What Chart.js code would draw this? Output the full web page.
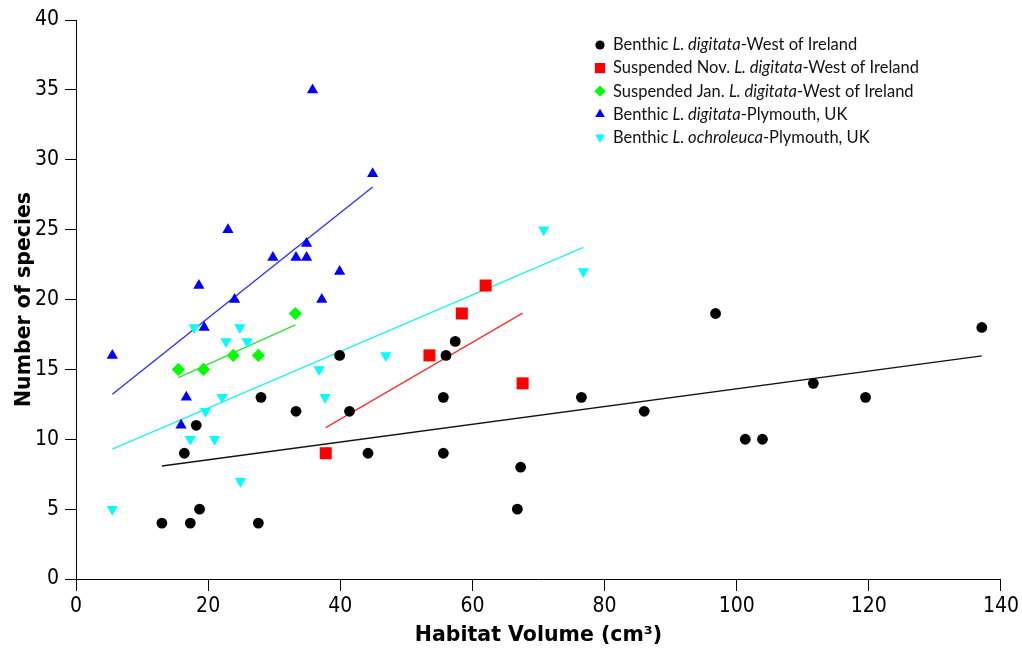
<!DOCTYPE html>
<html>
<head>
<meta charset="utf-8">
<title>Species richness vs habitat volume</title>
<script src="https://cdn.jsdelivr.net/npm/chart.js@4/dist/chart.umd.min.js"></script>
<style>
  html, body { margin: 0; padding: 0; background: #ffffff; }
  canvas { display: block; }
</style>
</head>
<body>
<canvas id="chart" width="1022" height="649"></canvas>
<script>
// Habitat volume (cm3) of each holdfast and the number of species found in it.
const benthicIrelandX = [13.0, 17.3, 18.7, 16.4, 18.2, 27.6, 28.0, 33.3, 39.9, 41.4, 44.2, 55.6, 55.6, 56.0, 57.4,
                         66.8, 67.3, 76.5, 86.0, 96.8, 101.3, 103.9, 111.6, 119.5, 137.1];
const benthicIrelandY = [4, 4, 5, 9, 11, 4, 13, 12, 16, 12, 9, 13, 9, 16, 17,
                         5, 8, 13, 12, 19, 10, 10, 14, 13, 18];

const suspendedNovX = [37.8, 53.5, 58.4, 62.0, 67.6];
const suspendedNovY = [9, 16, 19, 21, 14];

const suspendedJanX = [15.5, 19.3, 23.8, 27.6, 33.2];
const suspendedJanY = [15, 15, 16, 16, 19];

const plymouthDigitataX = [5.5, 15.9, 16.7, 18.6, 19.4, 23.0, 24.0, 29.8, 33.3, 34.9, 34.9, 37.2, 39.9, 35.8, 44.9];
const plymouthDigitataY = [16, 11, 13, 21, 18, 25, 20, 23, 23, 23, 24, 20, 22, 35, 29];

const plymouthOchroleucaX = [5.5, 17.3, 17.9, 19.6, 21.0, 22.1, 22.7, 24.8, 24.9, 25.9, 36.8, 37.7, 46.9, 70.8, 76.8];
const plymouthOchroleucaY = [5, 10, 18, 12, 10, 13, 17, 18, 7, 17, 15, 13, 16, 25, 22];

// Legend text: plain prefix, italic species name, plain suffix
const seriesLabels = [
  ['Benthic ', 'L. digitata', '-West of Ireland'],
  ['Suspended Nov. ', 'L. digitata', '-West of Ireland'],
  ['Suspended Jan. ', 'L. digitata', '-West of Ireland'],
  ['Benthic ', 'L. digitata', '-Plymouth, UK'],
  ['Benthic ', 'L. ochroleuca', '-Plymouth, UK']
];

const xAxisTitle = 'Habitat Volume (cm\u00B3)';
const yAxisTitle = 'Number of species';
const xRange = [0, 140];
const yRange = [0, 40];
const xStep = 20;
const yStep = 5;

// Marker appearance per series
const seriesColors = ['#000000', '#ff0000', '#00ff00', '#0000ff', '#00ffff'];
const lineColors = ['#111111', '#ff3030', '#30e030', '#3030ff', '#20f0f0'];
const markerStyles = [
  { pointStyle: 'circle', radius: 5.4, rotation: 0, legendRadius: 4.6 },
  { pointStyle: 'rect', radius: 8.5, rotation: 0, legendRadius: 7.2 },
  { pointStyle: 'rectRot', radius: 6.6, rotation: 0, legendRadius: 5.6 },
  { pointStyle: 'triangle', radius: 6.5, rotation: 0, legendRadius: 5.6 },
  { pointStyle: 'triangle', radius: 6.5, rotation: 180, legendRadius: 5.6 }
];

const seriesX = [benthicIrelandX, suspendedNovX, suspendedJanX, plymouthDigitataX, plymouthOchroleucaX];
const seriesY = [benthicIrelandY, suspendedNovY, suspendedJanY, plymouthDigitataY, plymouthOchroleucaY];

// Least-squares trend line across the x range of one series
function trendLine(xs, ys) {
  const n = xs.length;
  const mx = xs.reduce((a, b) => a + b, 0) / n;
  const my = ys.reduce((a, b) => a + b, 0) / n;
  let sxy = 0, sxx = 0;
  for (let i = 0; i < n; i++) {
    sxy += (xs[i] - mx) * (ys[i] - my);
    sxx += (xs[i] - mx) * (xs[i] - mx);
  }
  const slope = sxy / sxx;
  const icept = my - slope * mx;
  const x0 = Math.min(...xs), x1 = Math.max(...xs);
  return [{ x: x0, y: icept + slope * x0 }, { x: x1, y: icept + slope * x1 }];
}

const pointSets = seriesX.map((xs, i) => xs.map((x, j) => ({ x: x, y: seriesY[i][j] })));

const markerDatasets = pointSets.map((pts, i) => ({
  label: seriesLabels[i].join(''),
  data: pts,
  pointStyle: markerStyles[i].pointStyle,
  pointRadius: markerStyles[i].radius,
  pointRotation: markerStyles[i].rotation,
  pointBackgroundColor: seriesColors[i],
  pointBorderWidth: 0,
  pointBorderColor: seriesColors[i],
  backgroundColor: seriesColors[i],
  showLine: false,
  order: 0,
  clip: false
}));

const trendDatasets = pointSets.map((pts, i) => ({
  label: 'trend ' + i,
  data: trendLine(seriesX[i], seriesY[i]),
  showLine: true,
  borderColor: lineColors[i],
  borderWidth: 1.4,
  pointRadius: 0,
  fill: false,
  order: 1
}));

const tickFont = { family: "'DejaVu Sans Condensed', 'DejaVu Sans', sans-serif", size: 21 };
const titleFont = { family: "'DejaVu Sans', sans-serif", size: 20.5, weight: 'bold' };

// Legend with italic species names, drawn in the upper right of the plot
const richLegend = {
  id: 'richLegend',
  afterDraw(chart) {
    const ctx = chart.ctx;
    const markerX = 600, textX = 613, firstRow = 45, rowGap = 23.1;
    const family = "Lato, 'Open Sans', sans-serif";
    const size = 16.5;
    seriesLabels.forEach((parts, i) => {
      const y = firstRow + i * rowGap;
      ctx.save();
      ctx.fillStyle = seriesColors[i];
      ctx.strokeStyle = seriesColors[i];
      Chart.helpers.drawPoint(ctx, {
        pointStyle: markerStyles[i].pointStyle,
        radius: markerStyles[i].legendRadius,
        rotation: markerStyles[i].rotation,
        borderWidth: 0
      }, markerX, y);
      ctx.fillStyle = '#111111';
      ctx.textBaseline = 'middle';
      ctx.textAlign = 'left';
      let x = textX;
      parts.forEach((txt, k) => {
        ctx.font = (k === 1 ? 'italic ' : '') + size + 'px ' + family;
        ctx.fillText(txt, x, y);
        x += ctx.measureText(txt).width;
      });
      ctx.restore();
    });
  }
};

new Chart(document.getElementById('chart'), {
  type: 'scatter',
  data: { datasets: [...markerDatasets, ...trendDatasets] },
  options: {
    responsive: false,
    animation: false,
    devicePixelRatio: 1,
    layout: { padding: { left: 0, right: 20, top: 20, bottom: 0 } },
    plugins: {
      legend: { display: false },
      tooltip: { enabled: false }
    },
    scales: {
      x: {
        type: 'linear',
        position: 'bottom',
        min: xRange[0],
        max: xRange[1],
        afterFit: (s) => { s.height = 70; },
        ticks: { stepSize: xStep, color: '#000', font: tickFont, padding: 3, maxRotation: 0 },
        grid: { drawOnChartArea: false, drawTicks: true, tickLength: 12, color: '#000', lineWidth: 1 },
        border: { display: true, color: '#000', width: 1 },
        title: { display: true, text: xAxisTitle, color: '#000', font: titleFont, padding: { top: 0, bottom: 1 } }
      },
      y: {
        type: 'linear',
        position: 'left',
        min: yRange[0],
        max: yRange[1],
        afterFit: (s) => { s.width = 76; },
        ticks: { stepSize: yStep, color: '#000', font: tickFont, padding: 6 },
        grid: { drawOnChartArea: false, drawTicks: true, tickLength: 11, color: '#000', lineWidth: 1 },
        border: { display: true, color: '#000', width: 1 },
        title: { display: true, text: yAxisTitle, color: '#000', font: titleFont, padding: { top: 12, bottom: 0 } }
      }
    }
  },
  plugins: [richLegend]
});
</script>
</body>
</html>
